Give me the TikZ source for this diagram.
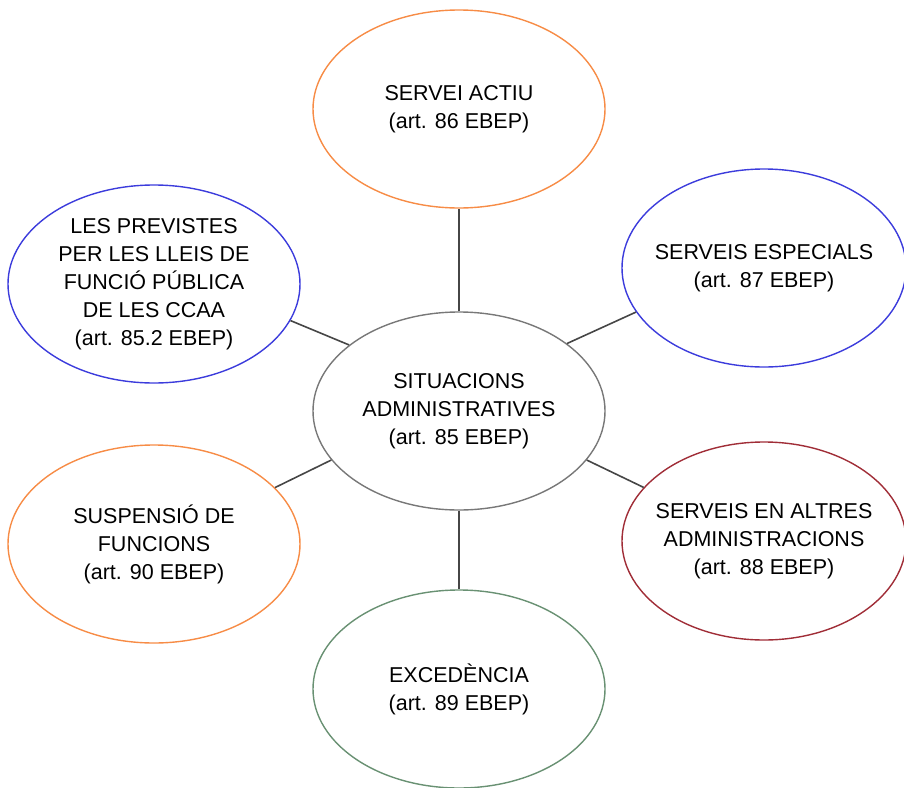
\documentclass[tikz,border=0pt]{standalone}
\usepackage{fontspec}
\setmainfont{Liberation Sans}
\usepackage{tikz}
\usetikzlibrary{shapes.geometric}
\definecolor{ataronja}{RGB}{247,140,70}
\definecolor{blau}{RGB}{60,60,220}
\definecolor{granat}{RGB}{160,45,55}
\definecolor{verd}{RGB}{105,145,115}
\definecolor{gris}{RGB}{120,120,120}
\definecolor{linia}{RGB}{70,70,70}
\tikzset{
  situacio/.style={ellipse, draw=#1, line width=1.4pt, fill=white, inner sep=-40pt,
    minimum width=292pt, minimum height=198pt, align=center,
    font=\fontsize{21.5}{28}\selectfont},
  enllac/.style={draw=linia, line width=1.6pt}
}
\begin{document}
\begin{tikzpicture}[x=1pt,y=-1pt]
\useasboundingbox (0,0) rectangle (904,787);
\node[situacio=gris] (central) at (459,411) {SITUACIONS\\ADMINISTRATIVES\\(art. 85 EBEP)};
\node[situacio=ataronja] (actiu) at (459,109) {SERVEI ACTIU\\(art. 86 EBEP)};
\node[situacio=blau, minimum width=284pt] (especials) at (764,268) {SERVEIS ESPECIALS\\(art. 87 EBEP)};
\node[situacio=granat, minimum width=284pt] (altres) at (764,541) {SERVEIS EN ALTRES\\ADMINISTRACIONS\\(art. 88 EBEP)};
\node[situacio=verd] (excedencia) at (459,689) {EXCEDÈNCIA\\(art. 89 EBEP)};
\node[situacio=ataronja] (suspensio) at (154,544) {SUSPENSIÓ DE\\FUNCIONS\\(art. 90 EBEP)};
\node[situacio=blau] (ccaa) at (154,284) {LES PREVISTES\\PER LES LLEIS DE\\FUNCIÓ PÚBLICA\\DE LES CCAA\\(art. 85.2 EBEP)};
% enllacos
\draw[enllac] (central) -- (actiu);
\draw[enllac] (central) -- (excedencia);
\draw[enllac] (central.149) -- (ccaa.-15);
\draw[enllac] (central.32) -- (especials.199);
\draw[enllac] (central.201) -- (suspensio.25);
\draw[enllac] (central.339) -- (altres.156);
\end{tikzpicture}
\end{document}
